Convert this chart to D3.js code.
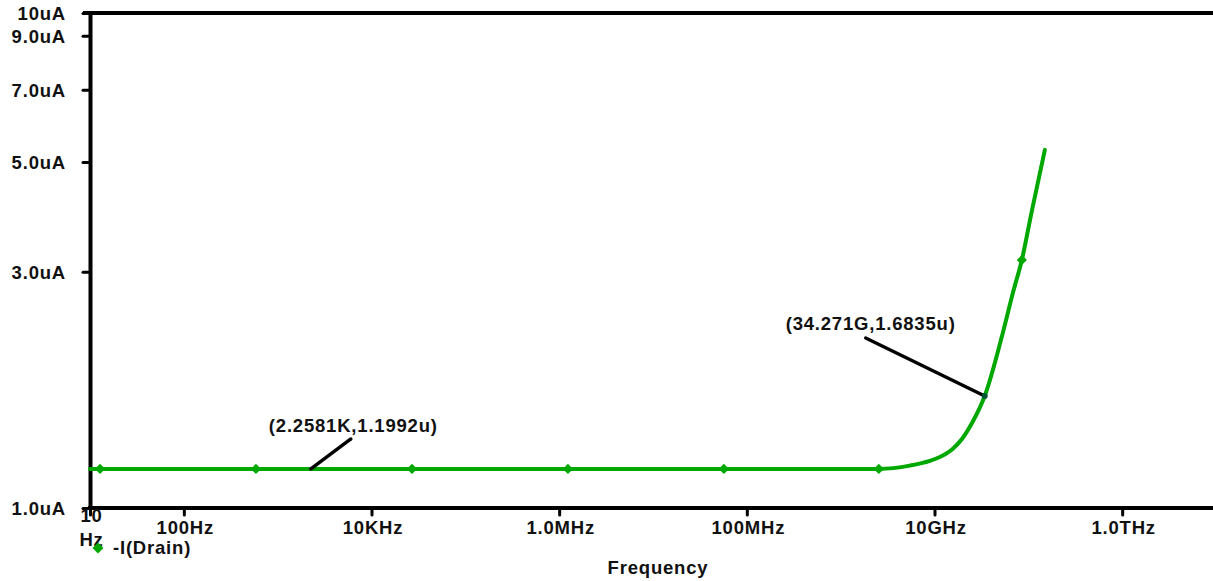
<!DOCTYPE html>
<html>
<head>
<meta charset="utf-8">
<script src="https://cdn.jsdelivr.net/npm/d3@7"></script>
<style>
  html, body { margin: 0; padding: 0; background: #fff; }
  svg { display: block; }
  text { font-family: "Liberation Sans", Arial, sans-serif; font-weight: bold; fill: #111; letter-spacing: 0.8px; }
</style>
</head>
<body>
<svg id="chart" width="1213" height="581"></svg>
<script>
// AC sweep of the drain current, -I(Drain), versus frequency (log/log)
const frequencyHz = [10, 12.8, 587, 27000, 1.24e6, 5.69e7, 1.0e9, 2.55e9, 5.46e9, 8.91e9, 1.14e10,
  1.57e10, 2.0e10, 2.56e10, 3.04e10, 3.4271e10, 5.35e10, 6.84e10, 8.53e10, 1.089e11, 1.5e11];
const drainCurrentUA = [1.1992, 1.1992, 1.1992, 1.1992, 1.1992, 1.1992, 1.1992, 1.1995, 1.218, 1.245, 1.268,
  1.318, 1.385, 1.495, 1.595, 1.6835, 2.26, 2.72, 3.17, 3.98, 5.29];
// indices of the samples that carry a trace symbol
const symbolIndex = [1, 2, 3, 4, 5, 7, 18];

// cursor read-outs
const cursorFreq = [2258.1, 3.4271e10];
const cursorCurrent = [1.1992, 1.6835];
const cursorText = ["(2.2581K,1.1992u)", "(34.271G,1.6835u)"];

const xTickValues = [10, 100, 1e4, 1e6, 1e8, 1e10, 1e12];
const xTickLabels = ["10\nHz", "100Hz", "10KHz", "1.0MHz", "100MHz", "10GHz", "1.0THz"];
const yTickValues = [1, 3, 5, 7, 9, 10];
const yTickLabels = ["1.0uA", "3.0uA", "5.0uA", "7.0uA", "9.0uA", "10uA"];

const traceName = "-I(Drain)";
const xTitle = "Frequency";

(function draw() {
  const svg = d3.select("#chart");
  const plotLeft = 90, plotTop = 13, plotBottom = 508, plotRight = 1216;
  const green = "#00a800";
  const fontSize = 18.5;

  const x = d3.scaleLog().domain([10, 1e13]).range([plotLeft, plotRight]);
  const y = d3.scaleLog().domain([1, 10]).range([plotBottom, plotTop]);

  // frame: top line and the two axes
  svg.append("line").attr("x1", plotLeft - 7).attr("x2", 1213).attr("y1", plotTop).attr("y2", plotTop)
    .attr("stroke", "#000").attr("stroke-width", 4);

  const yAxis = svg.append("g").attr("transform", `translate(${plotLeft},0)`)
    .call(d3.axisLeft(y).tickValues(yTickValues).tickSize(7).tickSizeOuter(0)
      .tickFormat((d, i) => yTickLabels[i]));
  yAxis.attr("font-family", null).attr("font-size", null);
  yAxis.select(".domain").attr("stroke", "#000").attr("stroke-width", 4);
  yAxis.selectAll(".tick line").attr("stroke", "#000").attr("stroke-width", 3).attr("stroke-linecap", "round");
  yAxis.selectAll(".tick text").attr("x", -24).attr("dy", "0.36em").attr("font-size", fontSize).attr("fill", "#111");

  const xAxis = svg.append("g").attr("transform", `translate(0,${plotBottom})`)
    .call(d3.axisBottom(x).tickValues(xTickValues).tickSize(7).tickSizeOuter(0).tickFormat(() => ""));
  xAxis.attr("font-family", null).attr("font-size", null);
  xAxis.select(".domain").attr("stroke", "#000").attr("stroke-width", 4)
    .attr("d", `M${plotLeft - 2},0H1213`);
  xAxis.selectAll(".tick line").attr("stroke", "#000").attr("stroke-width", 3).attr("stroke-linecap", "round");
  xAxis.selectAll(".tick text").remove();
  xAxis.selectAll(".tick").each(function (d, i) {
    const lines = xTickLabels[i].split("\n");
    const t = d3.select(this).append("text").attr("text-anchor", "middle").attr("font-size", fontSize);
    lines.forEach((s, k) => {
      t.append("tspan").attr("x", 1).attr("y", k === 0 ? (lines.length > 1 ? 14 : 26) : 38).text(s);
    });
  });

  svg.append("text").attr("x", 658).attr("y", 574).attr("text-anchor", "middle")
    .attr("font-size", fontSize).text(xTitle);

  // trace
  const pts = frequencyHz.map((f, i) => [x(f), y(drainCurrentUA[i])]);
  svg.append("path").datum(pts)
    .attr("fill", "none").attr("stroke", green).attr("stroke-width", 4)
    .attr("stroke-linejoin", "round").attr("stroke-linecap", "round")
    .attr("d", d3.line().curve(d3.curveMonotoneX));

  const marker = d3.symbol().type(d3.symbolSquare).size(52);
  svg.append("g").selectAll("path").data(symbolIndex).join("path")
    .attr("transform", i => `translate(${pts[i][0]},${pts[i][1]}) rotate(45)`)
    .attr("d", marker).attr("fill", green);

  // cursor labels with leader lines
  const leaderOffset = [[40, -30], [-119, -58]];
  const labelOffset = [[-42, -37], [-199, -66]];
  cursorFreq.forEach((f, i) => {
    const px = x(f), py = y(cursorCurrent[i]);
    svg.append("line").attr("x1", px).attr("y1", py)
      .attr("x2", px + leaderOffset[i][0]).attr("y2", py + leaderOffset[i][1])
      .attr("stroke", "#000").attr("stroke-width", 3.4).attr("stroke-linecap", "round");
    if (i === 1) {
      svg.append("circle").attr("cx", px).attr("cy", py).attr("r", 3).attr("fill", "#053");
    }
    svg.append("text").attr("x", px + labelOffset[i][0]).attr("y", py + labelOffset[i][1])
      .attr("font-size", fontSize).text(cursorText[i]);
  });

  // legend
  svg.append("path").attr("transform", "translate(98,548) rotate(45)")
    .attr("d", d3.symbol().type(d3.symbolSquare).size(60)).attr("fill", green);
  svg.append("text").attr("x", 113).attr("y", 554).attr("font-size", fontSize).text(traceName);
})();
</script>
</body>
</html>
